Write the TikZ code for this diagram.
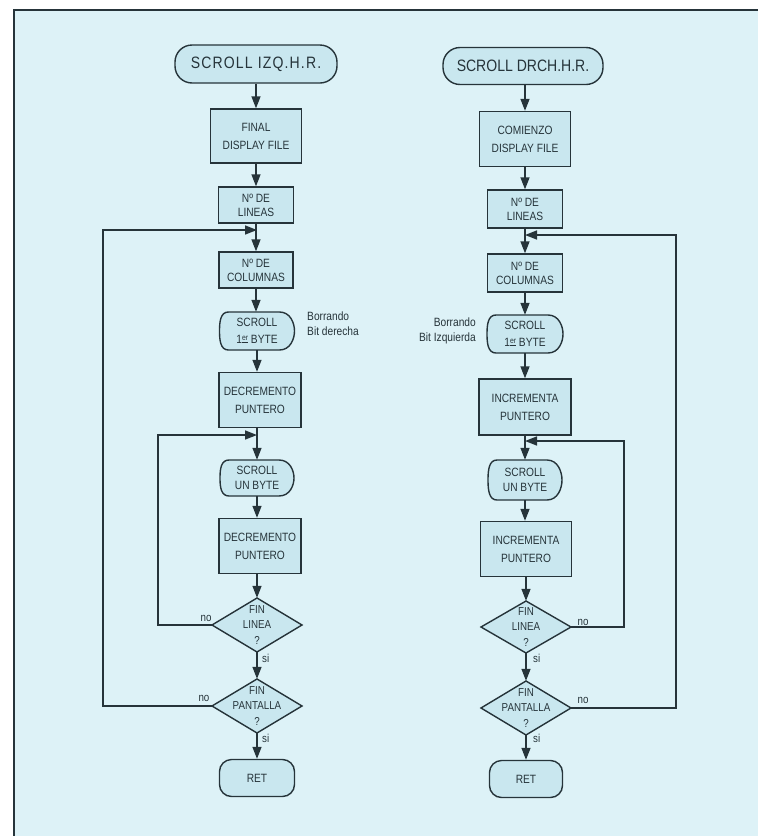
\documentclass[tikz,border=0pt]{standalone}
\usepackage{fontspec}
\setmainfont[FakeStretch=0.85]{Liberation Sans}
\usetikzlibrary{arrows.meta}
\definecolor{bgc}{HTML}{DDF2F7}
\definecolor{boxc}{HTML}{C9E7EF}
\definecolor{ink}{HTML}{26343A}

% #1 name, #2 x, #3 y, #4 half width, #5 half height, #6 baselineskip, #7 text
\newcommand\dispnode[7]{%
  \filldraw[draw=ink,fill=boxc,line width=1.4pt]
    ({#2-#4+9},{#3-#5}) -- ({#2+#4-15},{#3-#5})
    .. controls ({#2+#4-4},{#3-#5}) and ({#2+#4},{#3-#5*0.4}) .. ({#2+#4},{#3})
    .. controls ({#2+#4},{#3+#5*0.4}) and ({#2+#4-4},{#3+#5}) .. ({#2+#4-15},{#3+#5})
    -- ({#2-#4+9},{#3+#5})
    .. controls ({#2-#4+1},{#3+#5}) and ({#2-#4},{#3+#5*0.5}) .. ({#2-#4},{#3})
    .. controls ({#2-#4},{#3-#5*0.5}) and ({#2-#4+1},{#3-#5}) .. ({#2-#4+9},{#3-#5}) -- cycle;
  \node[dtxt, font=\fontsize{12}{#6}\selectfont, minimum width={2*#4}, minimum height={2*#5}] (#1) at (#2,#3) {#7};%
}
\newcommand\decnode[6]{%
  \filldraw[draw=ink,fill=boxc,line width=1.4pt]
    ({#2-#4},{#3}) -- ({#2},{#3-#5}) -- ({#2+#4},{#3}) -- ({#2},{#3+#5}) -- cycle;
  \node[dtxt, font=\fontsize{11.5}{15.5}\selectfont, minimum width={2*#4}, minimum height={2*#5}] (#1) at (#2,#3) {#6};%
}
\newcommand\primer{1\raisebox{0.45ex}{\fontsize{8}{8}\selectfont\underline{er}}}

\begin{document}
\begin{tikzpicture}[x=1pt,y=-1pt,
  dtxt/.style={text=ink, align=center, inner sep=0pt, draw=none},
  box/.style={draw=ink, fill=boxc, text=ink, align=center, inner sep=0pt, line width=1.4pt},
  bigbox/.style={box, font=\fontsize{12}{18}\selectfont},
  smallbox/.style={box, font=\fontsize{12}{14}\selectfont},
  term/.style={box, rounded corners=17pt, font=\fontsize{16.5}{18}\selectfont},
  retbox/.style={box, rounded corners=12pt, font=\fontsize{12}{13}\selectfont},
  flow/.style={draw=ink, line width=1.5pt, -{Triangle[length=12pt,width=9pt]}},
  lbl/.style={text=ink, inner sep=0pt, font=\fontsize{11.5}{13}\selectfont},
]
\useasboundingbox (0,0) rectangle (758,836);
\fill[white] (0,0) rectangle (758,836);
\fill[bgc] (14,10) rectangle (758,836);
\draw[ink, line width=1.5pt] (14,836) -- (14,10) -- (758,10);

% ---------------- left column ----------------
\node[term, minimum width=162pt, minimum height=38pt] (T1) at (256,64)
  {\addfontfeature{LetterSpace=7}SCROLL IZQ.H.R.};
\node[bigbox, minimum width=91pt, minimum height=54pt] (B1) at (256,136) {FINAL\\DISPLAY FILE};
\node[smallbox, minimum width=75pt, minimum height=36pt] (B2) at (256,205) {Nº DE\\LINEAS};
\node[smallbox, minimum width=74pt, minimum height=36pt] (B3) at (256,270) {Nº DE\\COLUMNAS};
\dispnode{D1}{257}{331}{37.5}{19}{17}{SCROLL\\\primer{} BYTE}
\node[bigbox, minimum width=82pt, minimum height=55pt] (B4) at (260,400) {DECREMENTO\\PUNTERO};
\dispnode{D2}{257}{478}{37}{18}{15}{SCROLL\\UN BYTE}
\node[bigbox, minimum width=82pt, minimum height=55pt] (B5) at (260,546) {DECREMENTO\\PUNTERO};
\decnode{Q1}{257}{625}{45}{27}{FIN\\LINEA\\?}
\decnode{Q2}{257}{706}{45}{27}{FIN\\PANTALLA\\?}
\node[retbox, minimum width=75pt, minimum height=37pt] (R1) at (257,778) {RET};

\coordinate (J1) at (257,230);
\coordinate (K1) at (103,706);
\coordinate (J2) at (257,435);
\coordinate (K2) at (158,625);

\draw[flow] (T1.south -| B1.north) -- (B1.north);
\draw[flow] (B1.south) -- (B2.north);
\draw[flow] (B2.south) -- (B3.north);
\draw[flow] (B3.south) -- (B3.south |- D1.north);
\draw[flow] (D1.south) -- (D1.south |- B4.north);
\draw[flow] (B4.south -| D2.north) -- (D2.north);
\draw[flow] (D2.south) -- (D2.south |- B5.north);
\draw[flow] (B5.south -| Q1.north) -- (Q1.north);
\draw[flow] (Q1.south) -- (Q2.north);
\draw[flow] (Q2.south) -- (R1.north);
\draw[flow] (Q1.west) -- (K2) |- (J2);
\draw[flow] (Q2.west) -- (K1) |- (J1);

\node[lbl, anchor=north west, align=left, font=\fontsize{12}{15}\selectfont] (N1) at (307,312) {Borrando\\Bit derecha};
\node[lbl] (n1) at (206,618) {no};
\node[lbl, anchor=west] (s1) at (262,658) {si};
\node[lbl] (n2) at (204,698) {no};
\node[lbl, anchor=west] (s2) at (262,738) {si};

% ---------------- right column ----------------
\node[term, minimum width=160pt, minimum height=37pt] (T2) at (523,66) {SCROLL DRCH.H.R.};
\node[bigbox, minimum width=91pt, minimum height=55pt] (C1) at (525,139) {COMIENZO\\DISPLAY FILE};
\node[smallbox, minimum width=75pt, minimum height=38pt] (C2) at (525,209) {Nº DE\\LINEAS};
\node[smallbox, minimum width=75pt, minimum height=38pt] (C3) at (525,273) {Nº DE\\COLUMNAS};
\dispnode{E1}{525}{334}{38}{19}{17}{SCROLL\\\primer{} BYTE}
\node[bigbox, minimum width=92pt, minimum height=56pt] (C4) at (525,407) {INCREMENTA\\PUNTERO};
\dispnode{E2}{525}{480}{37}{20}{15}{SCROLL\\UN BYTE}
\node[bigbox, minimum width=91pt, minimum height=55pt] (C5) at (526,549) {INCREMENTA\\PUNTERO};
\decnode{P1}{526}{627}{45}{26}{FIN\\LINEA\\?}
\decnode{P2}{526}{708}{45}{27}{FIN\\PANTALLA\\?}
\node[retbox, minimum width=73pt, minimum height=37pt] (R2) at (526,779) {RET};

\coordinate (J3) at (525,235);
\coordinate (K3) at (676,708);
\coordinate (J4) at (525,441);
\coordinate (K4) at (624,627);

\draw[flow] (T2.south -| C1.north) -- (C1.north);
\draw[flow] (C1.south) -- (C2.north);
\draw[flow] (C2.south) -- (C3.north);
\draw[flow] (C3.south) -- (E1.north);
\draw[flow] (E1.south) -- (C4.north);
\draw[flow] (C4.south) -- (E2.north);
\draw[flow] (E2.south) -- (E2.south |- C5.north);
\draw[flow] (C5.south -| P1.north) -- (P1.north);
\draw[flow] (P1.south) -- (P2.north);
\draw[flow] (P2.south) -- (R2.north);
\draw[flow] (P1.east) -- (K4) |- (J4);
\draw[flow] (P2.east) -- (K3) |- (J3);

\node[lbl, anchor=north east, align=right, font=\fontsize{12}{15}\selectfont] (N2) at (476,318) {Borrando\\Bit Izquierda};
\node[lbl] (n3) at (583,622) {no};
\node[lbl, anchor=west] (s3) at (533,658) {si};
\node[lbl] (n4) at (583,700) {no};
\node[lbl, anchor=west] (s4) at (533,738) {si};
\end{tikzpicture}
\end{document}
